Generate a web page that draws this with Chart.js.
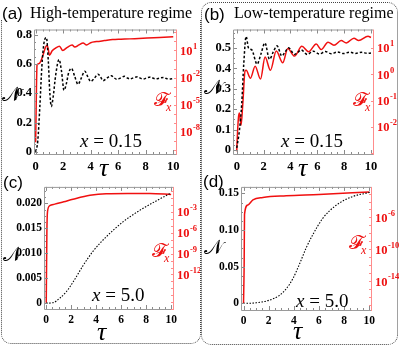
<!DOCTYPE html>
<html>
<head>
<meta charset="utf-8">
<script src="https://cdn.jsdelivr.net/npm/chart.js@4.4.1/dist/chart.umd.min.js"></script>
<style>
  html,body{margin:0;padding:0;background:#fff;}
  #wrap{position:relative;width:399px;height:348px;overflow:hidden;}
  canvas{position:absolute;}
  .t{position:absolute;white-space:nowrap;line-height:1;color:#000;}
  .serif{font-family:'Liberation Serif','DejaVu Serif',serif;}
  .red{color:#ee1111;}
  .sub{font-size:12px;font-style:italic;position:relative;top:5px;left:-2px;}
  .frameL{position:absolute;left:1px;top:20px;width:198px;height:323px;border:1px dotted #444;border-top:none;border-radius:0 0 10px 10px;}
  .frameR{position:absolute;left:201px;top:2px;width:195px;height:341px;border:1px dotted #444;border-radius:10px;}
</style>
</head>
<body>
<div id="wrap">
  <div class="frameL"></div>
  <div class="frameR"></div>

  <canvas id="cA" width="200" height="160" style="left:0;top:20px"></canvas>
  <canvas id="cB" width="199" height="160" style="left:200px;top:20px"></canvas>
  <canvas id="cC" width="200" height="150" style="left:0;top:178px"></canvas>
  <canvas id="cD" width="199" height="150" style="left:200px;top:178px"></canvas>

  <!-- panel labels / titles -->
  <div class="t" style="left:2px;top:4px;font:17px 'Liberation Sans',sans-serif">(a)</div>
  <div class="t serif" style="left:30px;top:5px;font-size:16px">High-temperature regime</div>
  <div class="t" style="left:204px;top:5px;font:17px 'Liberation Sans',sans-serif">(b)</div>
  <div class="t serif" style="left:234px;top:5px;font-size:16px">Low-temperature regime</div>
  <div class="t" style="left:3px;top:173px;font:17px 'Liberation Sans',sans-serif">(c)</div>
  <div class="t" style="left:203px;top:172px;font:17px 'Liberation Sans',sans-serif">(d)</div>

  <!-- axis titles -->
  <div class="t serif" style="left:99px;top:155px;font-size:26px;font-style:italic">τ</div>
  <div class="t serif" style="left:298px;top:155px;font-size:26px;font-style:italic">τ</div>
  <div class="t serif" style="left:97px;top:319px;font-size:26px;font-style:italic">τ</div>
  <div class="t serif" style="left:293px;top:318px;font-size:26px;font-style:italic">τ</div>

  <div class="t serif" style="left:2px;top:84px;font-size:20px">𝒩</div>
  <div class="t serif" style="left:204px;top:77px;font-size:20px">𝒩</div>
  <div class="t serif" style="left:3px;top:244px;font-size:20px">𝒩</div>
  <div class="t serif" style="left:204px;top:237px;font-size:20px">𝒩</div>

  <div class="t serif red" style="left:154px;top:90px;font-size:19px">𝓕<span class="sub">x</span></div>
  <div class="t serif red" style="left:353px;top:90px;font-size:19px">𝓕<span class="sub">x</span></div>
  <div class="t serif red" style="left:152px;top:241px;font-size:19px">𝓕<span class="sub">x</span></div>
  <div class="t serif red" style="left:349px;top:233px;font-size:19px">𝓕<span class="sub">x</span></div>

  <div class="t serif" style="left:80px;top:131px;font-size:19px"><i>x</i> = 0.15</div>
  <div class="t serif" style="left:281px;top:131px;font-size:19px"><i>x</i> = 0.15</div>
  <div class="t serif" style="left:92px;top:285px;font-size:19px"><i>x</i> = 5.0</div>
  <div class="t serif" style="left:296px;top:291px;font-size:19px"><i>x</i> = 5.0</div>
</div>

<script>
// ------------------------------------------------------
// data
// ------------------------------------------------------
const TAU_TICKS = [0, 2, 4, 6, 8, 10];

// (a) high temperature, x = 0.15
const tauNA = [0, 0.15, 0.3, 0.45, 0.6, 0.78, 0.92, 1.02, 1.14, 1.28, 1.45, 1.7, 1.88, 2.06, 2.22, 2.4, 2.6, 2.82, 3.08, 3.3, 3.57, 3.8, 4.0, 4.25, 4.54, 4.72, 4.9, 5.2, 5.5, 5.7, 5.9, 6.2, 6.45, 6.65, 6.85, 7.1, 7.4, 7.6, 7.8, 8.1, 8.35, 8.55, 8.75, 9.0, 9.3, 9.5, 9.7, 10];
const negA  = [0, 0.07, 0.3, 0.58, 0.74, 0.78, 0.62, 0.42, 0.31, 0.38, 0.52, 0.63, 0.55, 0.42, 0.46, 0.54, 0.57, 0.52, 0.46, 0.5, 0.55, 0.51, 0.48, 0.5, 0.53, 0.51, 0.485, 0.505, 0.52, 0.505, 0.495, 0.505, 0.515, 0.505, 0.497, 0.505, 0.512, 0.503, 0.497, 0.505, 0.51, 0.502, 0.498, 0.503, 0.508, 0.5, 0.497, 0.5];
const tauFA = [0, 0.03, 0.06, 0.1, 0.22, 0.37, 0.53, 0.72, 0.84, 0.93, 1.0, 1.2, 1.45, 1.73, 1.97, 2.3, 2.65, 2.84, 3.15, 3.45, 3.7, 4.0, 4.42, 5.0, 5.6, 6.2, 6.85, 7.5, 8.1, 9.0, 10];
const fxA   = [8e-10, 1e-6, 1e-3, 0.24, 0.35, 0.63, 2.9, 23, 35, 11, 2.9, 9, 18, 29, 10, 22, 40, 23, 40, 66, 40, 71, 93, 120, 155, 170, 186, 209, 229, 269, 316];

// (b) low temperature, x = 0.15
const tauNB = [0, 0.2, 0.37, 0.52, 0.7, 0.87, 1.12, 1.52, 1.8, 2.1, 2.44, 2.72, 3.0, 3.36, 3.6, 3.86, 4.3, 4.55, 4.8, 5.25, 5.7, 6.15, 6.6, 7.05, 7.5, 7.95, 8.4, 8.85, 9.3, 9.75, 10];
const negB  = [0.01, 0.097, 0.226, 0.42, 0.556, 0.5, 0.49, 0.42, 0.47, 0.524, 0.444, 0.48, 0.51, 0.46, 0.48, 0.5, 0.468, 0.478, 0.49, 0.468, 0.484, 0.47, 0.482, 0.471, 0.48, 0.472, 0.479, 0.473, 0.478, 0.473, 0.475];
const tauFB = [0, 0.02, 0.13, 0.2, 0.32, 0.45, 0.62, 0.7, 1.02, 1.37, 1.77, 2.11, 2.51, 2.94, 3.43, 3.8, 4.3, 4.85, 5.35, 5.92, 6.29, 6.8, 7.24, 7.78, 8.16, 8.73, 9.08, 9.78, 10];
const fxB   = [1.2e-3, 2.4e-3, 0.024, 0.034, 0.0117, 0.076, 1.35, 1.41, 0.71, 2.04, 0.66, 4.5, 1.41, 7.6, 2.75, 9.5, 4.9, 11.5, 7.1, 14.1, 8.7, 16.6, 12.6, 19, 15.5, 23.4, 19, 27.5, 25];

// (c) high temperature, x = 5.0
const tauNC = [0, 0.55, 1.08, 1.6, 2.14, 2.94, 3.74, 4.8, 6.14, 7.48, 8.8, 10];
const negC  = [0, 0.0001, 0.001, 0.00227, 0.0042, 0.0075, 0.0104, 0.0133, 0.0163, 0.0186, 0.0205, 0.0221];
const tauFC = [0, 0.05, 0.1, 0.28, 0.68, 1.4, 2.14, 3.5, 4.8, 6.5, 8.3, 10];
const fxC   = [8e-17, 1e-6, 1.2e-3, 8.7e-3, 0.0148, 0.032, 0.074, 0.275, 0.48, 0.52, 0.52, 0.38];

// (d) low temperature, x = 5.0
const tauND = [0, 1.0, 2.07, 2.86, 3.4, 3.93, 4.46, 4.99, 5.52, 6.3, 7.37, 8.7, 9.9, 10.1];
const negD  = [0, 0.0008, 0.0045, 0.011, 0.020, 0.034, 0.054, 0.076, 0.094, 0.116, 0.134, 0.146, 0.151, 0.152];
const tauFD = [0, 0.05, 0.08, 0.35, 0.75, 1.54, 3.4, 6.0, 10];
const fxD   = [1.6e-17, 1e-12, 2.5e-6, 3.7e-5, 1.6e-4, 3.2e-4, 5.2e-4, 7.6e-4, 1.6e-3];

// tick lists
const nTicksA = [0, 0.2, 0.4, 0.6, 0.8];
const nLabelsA = ['0', '0.2', '0.4', '0.6', '0.8'];
const nTicksB = [0, 0.1, 0.2, 0.3, 0.4, 0.5];
const nLabelsB = ['0', '0.1', '0.2', '0.3', '0.4', '0.5'];
const nTicksC = [0, 0.005, 0.01, 0.015, 0.02];
const nLabelsC = ['0', '0.005', '0.010', '0.015', '0.020'];
const nTicksD = [0, 0.05, 0.1, 0.15];
const nLabelsD = ['0', '0.05', '0.10', '0.15'];
const fTicksA = [1e1, 1e-2, 1e-5, 1e-8];
const fTicksB = [1e1, 1e0, 1e-1, 1e-2];
const fTicksC = [1e-3, 1e-6, 1e-9, 1e-12];
const fTicksD = [1e-6, 1e-10, 1e-14];


// ------------------------------------------------------
// frame + inward ticks + right (log) labels
// ------------------------------------------------------
const framePlugin = {
  id: 'frame',
  afterDatasetsDraw(chart){
    const ctx = chart.ctx;
    const a = chart.chartArea;
    const sx = chart.scales.x, sy = chart.scales.y, s2 = chart.scales.y2;
    ctx.save();
    ctx.lineWidth = 1;

    // minor/major ticks, gray
    ctx.strokeStyle = '#8a8a8a';
    ctx.beginPath();
    for(let v = 0; v <= 10.001; v += 0.5){
      const px = Math.round(sx.getPixelForValue(v)) + 0.5;
      const len = (Math.abs(v % 2) < 1e-6) ? 4 : 2;
      ctx.moveTo(px, a.bottom); ctx.lineTo(px, a.bottom - len);
      ctx.moveTo(px, a.top); ctx.lineTo(px, a.top + len);
    }
    const yt = chart.options.scales.y.tickVals;
    const step = (yt[1] - yt[0]) / 4;
    for(let v = yt[0]; v <= sy.max; v += step){
      const py = Math.round(sy.getPixelForValue(v)) + 0.5;
      const major = yt.some(t => Math.abs(t - v) < step / 10);
      ctx.moveTo(a.left, py); ctx.lineTo(a.left + (major ? 4 : 2), py);
    }
    ctx.stroke();

    // frame
    ctx.strokeStyle = '#9a9a9a';
    ctx.beginPath();
    ctx.moveTo(a.right, a.top + 0.5); ctx.lineTo(a.left + 0.5, a.top + 0.5);
    ctx.lineTo(a.left + 0.5, a.bottom + 0.5); ctx.lineTo(a.right, a.bottom + 0.5);
    ctx.stroke();
    ctx.strokeStyle = '#ff8c8c';
    ctx.beginPath();
    ctx.moveTo(a.right + 0.5, a.top); ctx.lineTo(a.right + 0.5, a.bottom + 1);
    // right ticks
    const lo = Math.ceil(Math.log10(s2.min)), hi = Math.floor(Math.log10(s2.max));
    for(let e = lo; e <= hi; e++){
      const py = Math.round(s2.getPixelForValue(Math.pow(10, e))) + 0.5;
      ctx.moveTo(a.right, py); ctx.lineTo(a.right - 2, py);
    }
    ctx.stroke();

    // right labels: 10^e
    ctx.fillStyle = '#ee1111';
    ctx.textBaseline = 'middle';
    chart.options.scales.y2.tickVals.forEach(v => {
      const e = Math.round(Math.log10(v));
      const py = s2.getPixelForValue(v);
      const x0 = a.right + 4;
      ctx.font = "bold 12.5px 'Liberation Serif'";
      ctx.fillText('10', x0, py + 1);
      const w = ctx.measureText('10').width;
      ctx.font = "bold 8.5px 'Liberation Serif'";
      ctx.fillText(String(e), x0 + w + 0.5, py - 4);
    });
    ctx.restore();
  }
};


// ------------------------------------------------------
// one panel
// ------------------------------------------------------
function buildPanel(id, p){
  const pts = (xs, ys) => xs.map((x, i) => ({ x: x, y: ys[i] }));
  const tickFont = { family: "'Liberation Serif', serif", weight: 'bold', size: p.tickSize || 12.5 };

  return new Chart(document.getElementById(id).getContext('2d'), {
    type: 'line',
    data: {
      datasets: [
        {
          data: pts(p.tauN, p.neg), yAxisID: 'y',
          borderColor: '#000', borderWidth: p.dashW, borderDash: p.dash,
          pointRadius: 0, cubicInterpolationMode: 'monotone', fill: false
        },
        {
          data: pts(p.tauF, p.fx), yAxisID: 'y2',
          borderColor: '#f01010', borderWidth: 1.5,
          pointRadius: 0, cubicInterpolationMode: 'monotone', fill: false
        }
      ]
    },
    options: {
      responsive: false,
      animation: false,
      devicePixelRatio: 1,
      layout: { padding: { top: p.top, left: 0, right: 0, bottom: 0 } },
      plugins: { legend: { display: false }, tooltip: { enabled: false } },
      scales: {
        x: {
          type: 'linear', min: p.xMin, max: p.xMax,
          afterBuildTicks: s => { s.ticks = TAU_TICKS.map(v => ({ value: v })); },
          afterFit: s => { s.height = p.bottom; },
          grid: { display: false, drawTicks: false },
          border: { display: false },
          ticks: { font: tickFont, color: '#000', padding: p.xPad, maxRotation: 0, autoSkip: false, callback: v => String(v) }
        },
        y: {
          type: 'linear', position: 'left', min: p.yMin, max: p.yMax,
          tickVals: p.nTicks,
          afterBuildTicks: s => { s.ticks = p.nTicks.map(v => ({ value: v })); },
          afterFit: s => { s.width = p.left; },
          grid: { display: false, drawTicks: false },
          border: { display: false },
          ticks: { font: tickFont, color: '#000', padding: 2, autoSkip: false, callback: (v, i) => p.nLabels[i] }
        },
        y2: {
          type: 'logarithmic', position: 'right', min: p.fMin, max: p.fMax,
          tickVals: p.fTicks,
          afterBuildTicks: s => { s.ticks = p.fTicks.map(v => ({ value: v })); },
          afterFit: s => { s.width = p.right; },
          grid: { display: false, drawTicks: false },
          border: { display: false },
          ticks: { display: false }
        }
      }
    },
    plugins: [framePlugin]
  });
}

buildPanel('cA', {
  tauN: tauNA, neg: negA, tauF: tauFA, fx: fxA, nTicks: nTicksA, nLabels: nLabelsA, fTicks: fTicksA,
  xMin: -0.12, xMax: 10.2, yMin: -0.015, yMax: 0.835, fMin: 4e-11, fMax: 2000,
  left: 34, right: 24, top: 7, bottom: 26, xPad: 5, dash: [2.5, 2], dashW: 1.5
});
buildPanel('cB', {
  tauN: tauNB, neg: negB, tauF: tauFB, fx: fxB, nTicks: nTicksB, nLabels: nLabelsB, fTicks: fTicksB,
  xMin: -0.28, xMax: 10.15, yMin: -0.02, yMax: 0.59, fMin: 9.5e-4, fMax: 50,
  left: 33, right: 26, top: 8, bottom: 26, xPad: 5, dash: [2.5, 2], dashW: 1.5
});
buildPanel('cC', {
  tauN: tauNC, neg: negC, tauF: tauFC, fx: fxC, nTicks: nTicksC, nLabels: nLabelsC, fTicks: fTicksC,
  xMin: -0.18, xMax: 10.15, yMin: -0.00117, yMax: 0.02332, fMin: 1e-17, fMax: 4.6,
  left: 44, right: 27, top: 6, bottom: 19, xPad: 4, dash: [1.5, 1.5], dashW: 1.1, tickSize: 11.5
});
buildPanel('cD', {
  tauN: tauND, neg: negD, tauF: tauFD, fx: fxD, nTicks: nTicksD, nLabels: nLabelsD, fTicks: fTicksD,
  xMin: -0.2, xMax: 10.14, yMin: -0.009, yMax: 0.159, fMin: 2.5e-18, fMax: 6.8e-3,
  left: 41, right: 28, top: 7, bottom: 18, xPad: 4, dash: [1.5, 1.5], dashW: 1.1, tickSize: 11.5
});
</script>
</body>
</html>
